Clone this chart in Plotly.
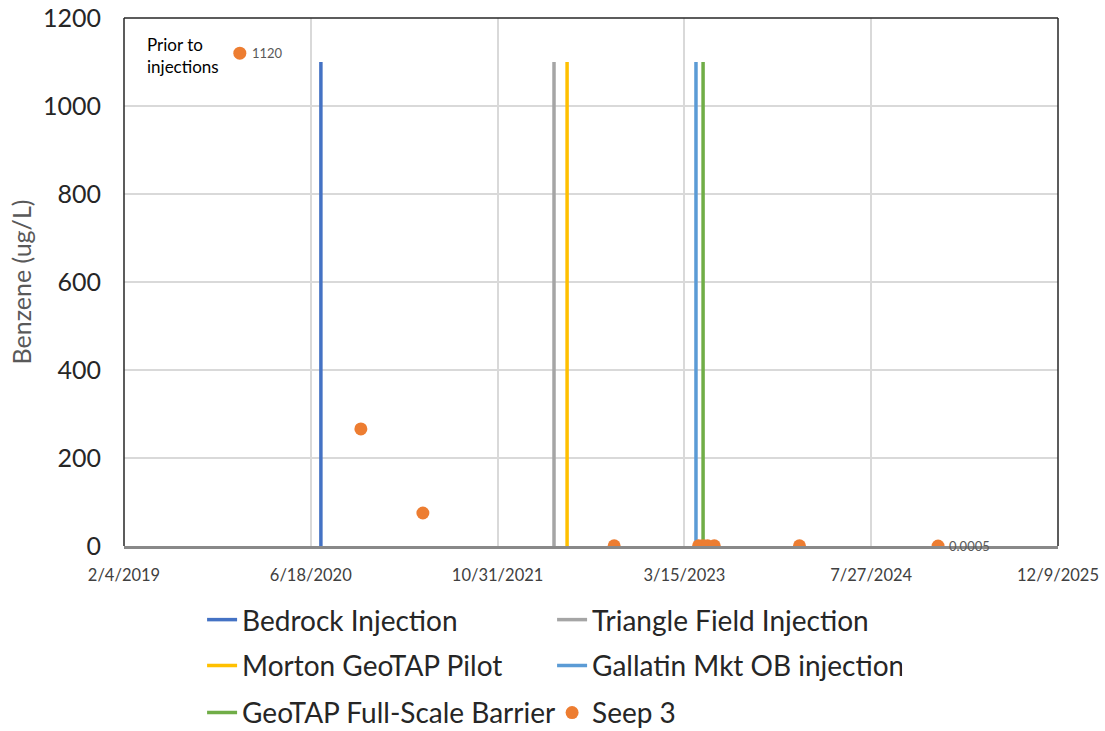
import plotly.graph_objects as go
from datetime import date, timedelta

# Injection events (vertical lines)
event_names = ["Bedrock Injection", "Triangle Field Injection", "Morton GeoTAP Pilot",
               "Gallatin Mkt OB injection", "GeoTAP Full-Scale Barrier"]
event_dates = ["2020-07-15", "2022-03-31", "2022-05-05", "2023-04-15", "2023-05-04"]
event_top = 1100
event_colors = ["#4472C4", "#A5A5A5", "#FFC000", "#5B9BD5", "#70AD47"]

# Seep 3 benzene samples
seep_dates = ["2019-12-11", "2020-10-30", "2021-04-14", "2022-09-08", "2023-04-22",
              "2023-05-04", "2023-05-16", "2023-06-03", "2024-01-17", "2025-01-22"]
seep_values = [1120, 266, 75, 0.5, 0.5, 0.5, 0.5, 0.5, 0.5, 0.0005]

# Axis ticks
x_start = date(2019, 2, 4)
x_tick_dates = [x_start + timedelta(days=500 * i) for i in range(6)]
x_tick_text = [f"{d.month}/{d.day}/{d.year}" for d in x_tick_dates]
y_ticks = [0, 200, 400, 600, 800, 1000, 1200]

FONT = "Lato"
fig = go.Figure()

legend_ids = ["legend", "legend", "legend2", "legend2", "legend3"]
for name, d, c, lg in zip(event_names, event_dates, event_colors, legend_ids):
    fig.add_trace(go.Scatter(x=[d, d], y=[0, event_top], mode="lines", name=name,
                             line=dict(color=c, width=3.5), legend=lg))

fig.add_trace(go.Scatter(x=seep_dates, y=seep_values, mode="markers", name="Seep 3",
                         marker=dict(color="#ED7D31", size=13), legend="legend3"))

# Data labels
fig.add_annotation(x=seep_dates[0], y=seep_values[0], text=str(seep_values[0]),
                   xanchor="left", xshift=10, showarrow=False,
                   font=dict(family=FONT, size=13, color="#595959"))
fig.add_annotation(x=seep_dates[-1], y=seep_values[-1], text=str(seep_values[-1]),
                   xanchor="left", xshift=9, showarrow=False,
                   font=dict(family=FONT, size=13, color="#595959"))
fig.add_annotation(x=0.022, y=0.974, xref="paper", yref="paper", xanchor="left", yanchor="top",
                   text="Prior to<br>injections", showarrow=False, align="left",
                   font=dict(family=FONT, size=17, color="#000000"))

# Plot border (top, left, right)
for x0, y0, x1, y1 in [(0, 1, 1, 1), (0, 0, 0, 1), (1, 0, 1, 1)]:
    fig.add_shape(type="line", xref="paper", yref="paper", x0=x0, y0=y0, x1=x1, y1=y1,
                  line=dict(color="#262626", width=1.5), layer="above")

leg_common = dict(orientation="h", xanchor="left", yanchor="middle", x=0.0836,
                  entrywidth=305, entrywidthmode="pixels",
                  font=dict(family=FONT, size=28, color="#262626"),
                  bgcolor="rgba(0,0,0,0)")

fig.update_layout(
    width=1105, height=731,
    margin=dict(l=124, r=47, t=18, b=185, autoexpand=False),
    paper_bgcolor="white", plot_bgcolor="white",
    showlegend=True,
    legend=dict(y=-0.140, **leg_common),
    legend2=dict(y=-0.227, **leg_common),
    legend3=dict(y=-0.316, **leg_common),
    xaxis=dict(type="date", range=[x_tick_dates[0], x_tick_dates[-1]],
               tickvals=x_tick_dates, ticktext=x_tick_text, automargin=False,
               showgrid=True, gridcolor="#D9D9D9", gridwidth=1.5,
               showline=True, linecolor="#898989", linewidth=2.5,
               zeroline=False, ticks="", ticklabelstandoff=12,
               tickfont=dict(family=FONT, size=16.5, color="#404040")),
    yaxis=dict(range=[0, 1200], tickvals=y_ticks, automargin=False,
               showgrid=True, gridcolor="#D9D9D9", gridwidth=1.5,
               zeroline=False, ticks="", ticklabelstandoff=22,
               tickfont=dict(family=FONT, size=25, color="#262626"),
               title=dict(text="Benzene (ug/L)", standoff=4,
                          font=dict(family=FONT, size=25, color="#595959"))),
)

# Remove the browser's default 8px body margin so the figure sits at the page origin
fig.write_html("out.html", config={"displayModeBar": False},
               post_script="document.body.style.margin='0';")
